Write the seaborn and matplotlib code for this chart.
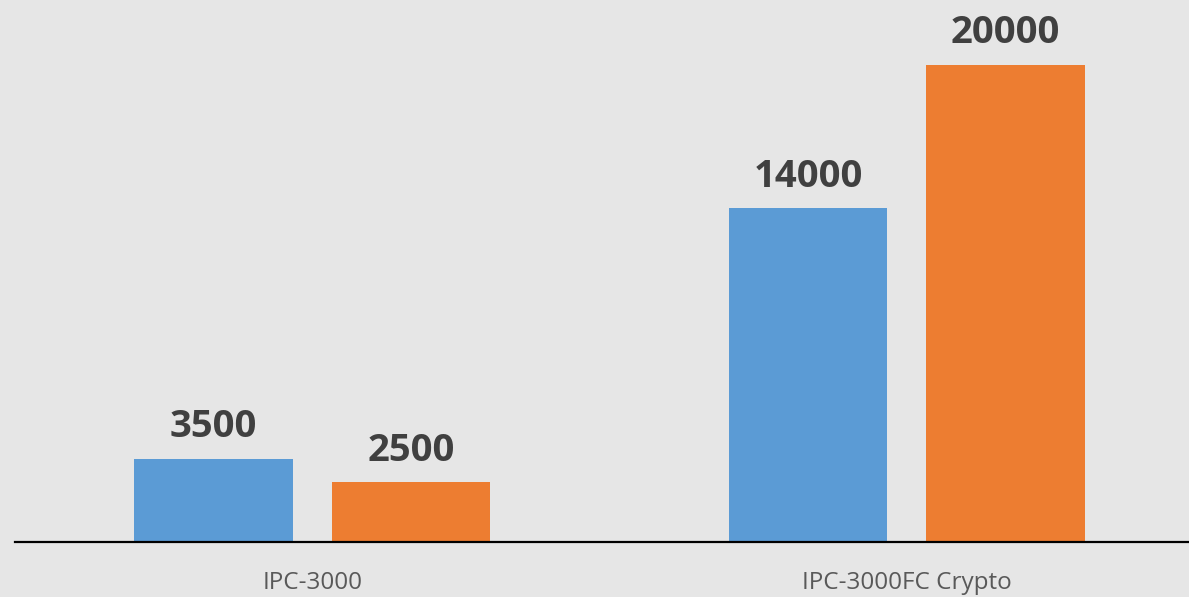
import matplotlib
matplotlib.use("Agg")
import matplotlib.pyplot as plt
import seaborn as sns
import pandas as pd

categories = ["IPC-3000", "IPC-3000FC Crypto"]
series_names = ["Series 1", "Series 2"]
series1 = [3500, 14000]
series2 = [2500, 20000]

rows = []
for c, a, b in zip(categories, series1, series2):
    rows.append({"cat": c, "series": series_names[0], "value": a})
    rows.append({"cat": c, "series": series_names[1], "value": b})
df = pd.DataFrame(rows)

sns.set_theme(style="white")
plt.rcParams['font.family'] = ['Open Sans', 'DejaVu Sans']

fig = plt.figure(figsize=(11.89, 5.97), dpi=100)
fig.patch.set_facecolor("#e6e6e6")
ax = fig.add_axes([15/1189, 55/597, 1189/1189, 542/597])
ax.set_facecolor("none")

sns.barplot(data=df, x="cat", y="value", hue="series", order=categories,
            hue_order=series_names, palette=["#5B9BD5", "#ED7D31"],
            width=0.664, gap=0.198, ax=ax, legend=False, saturation=1,
            linewidth=0, edgecolor="none")

for cont in ax.containers:
    ax.bar_label(cont, labels=[f"{int(v)}" for v in cont.datavalues],
                 padding=9, fontsize=27.5, fontweight="bold", color="#404040")

ax.set_ylim(0, 22725)
ax.set_xlim(-0.5, 1.5)
ax.set_xlabel("")
ax.set_ylabel("")
ax.set_yticks([])
ax.tick_params(axis="x", length=0, pad=21, labelsize=17.5, labelcolor="#595959")
for s in ["top", "right", "left"]:
    ax.spines[s].set_visible(False)
ax.spines["bottom"].set_color("black")
ax.spines["bottom"].set_linewidth(1.6)

fig.savefig("out.png", dpi=100, facecolor=fig.get_facecolor())
